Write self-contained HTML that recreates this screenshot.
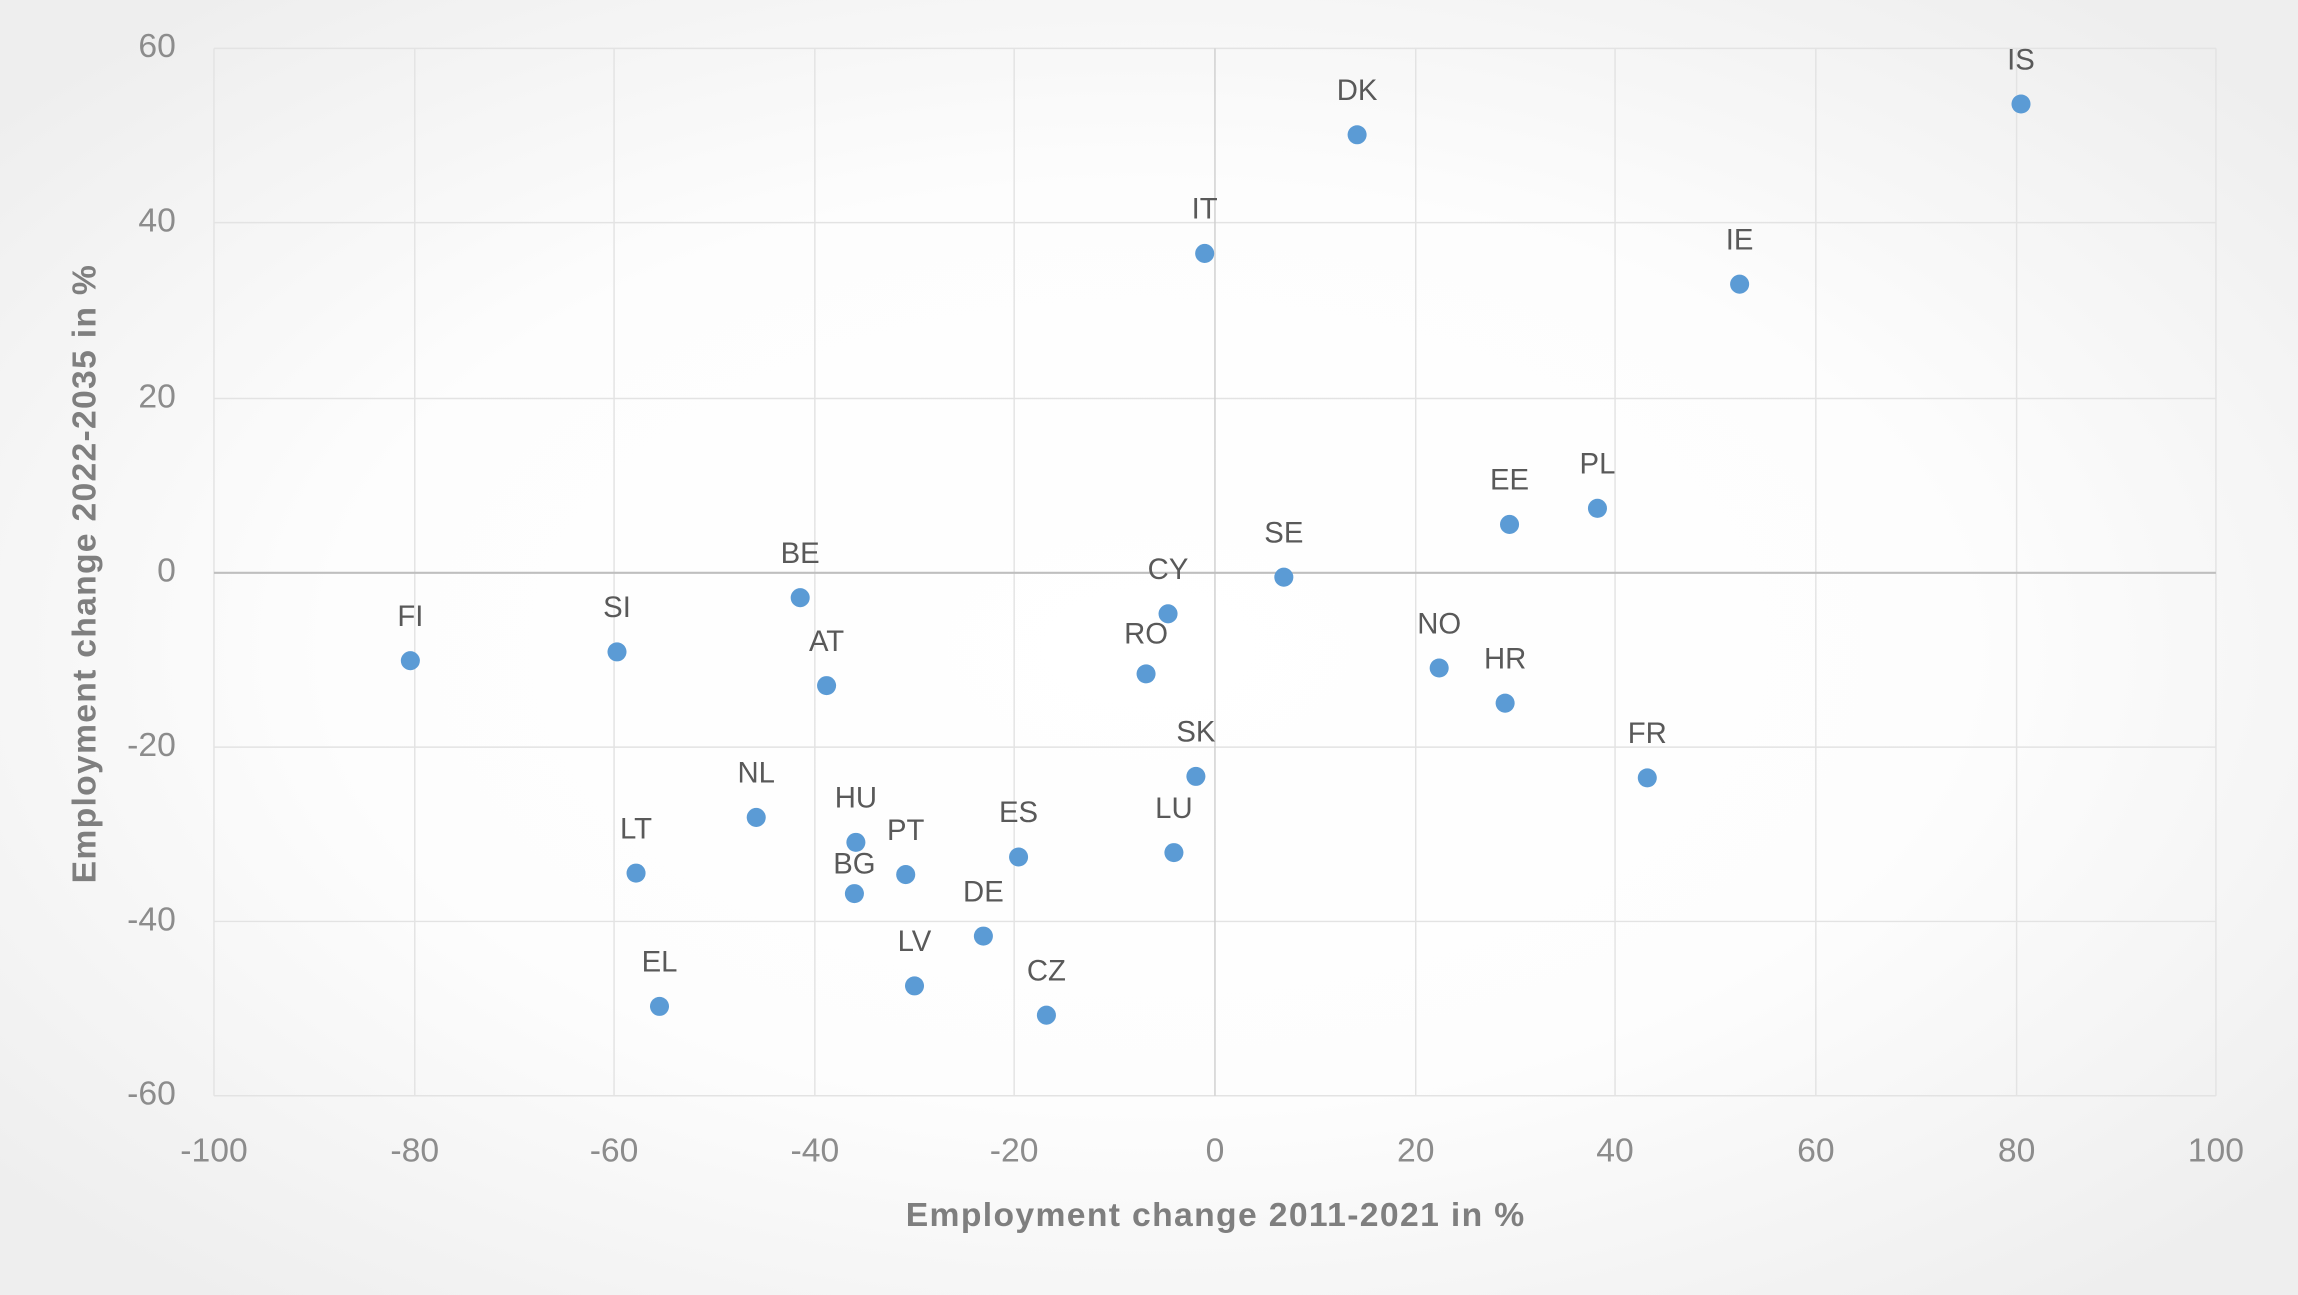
<!DOCTYPE html>
<html><head><meta charset="utf-8"><style>html,body{margin:0;padding:0;background:#fff}svg{display:block}</style></head>
<body>
<svg width="2298" height="1295" viewBox="0 0 1568 884" preserveAspectRatio="none" xmlns="http://www.w3.org/2000/svg" font-family="Liberation Sans, sans-serif">
<defs><radialGradient id="bg" cx="50%" cy="50%" r="65%"><stop offset="0%" stop-color="#ffffff"/><stop offset="55%" stop-color="#fdfdfd"/><stop offset="100%" stop-color="#eeeeee"/></radialGradient></defs>
<rect width="1568" height="884" fill="url(#bg)"/>
<g stroke="#e3e3e3" stroke-width="1">
<line x1="146" y1="33" x2="146" y2="748"/><line x1="283" y1="33" x2="283" y2="748"/><line x1="419" y1="33" x2="419" y2="748"/><line x1="556" y1="33" x2="556" y2="748"/><line x1="692" y1="33" x2="692" y2="748"/><line x1="966" y1="33" x2="966" y2="748"/><line x1="1102" y1="33" x2="1102" y2="748"/><line x1="1239" y1="33" x2="1239" y2="748"/><line x1="1376" y1="33" x2="1376" y2="748"/><line x1="1512" y1="33" x2="1512" y2="748"/>
<line x1="146" y1="33" x2="1512" y2="33"/><line x1="146" y1="152" x2="1512" y2="152"/><line x1="146" y1="272" x2="1512" y2="272"/><line x1="146" y1="510" x2="1512" y2="510"/><line x1="146" y1="629" x2="1512" y2="629"/><line x1="146" y1="748" x2="1512" y2="748"/>
</g>
<line x1="829" y1="33" x2="829" y2="748" stroke="#d0d0d0"/>
<line x1="146" y1="391" x2="1512" y2="391" stroke="#bfbfbf" stroke-width="1.5"/>
<g fill="#8c8c8c" font-size="23" text-anchor="end" dominant-baseline="middle">
<text x="120" y="33">60</text><text x="120" y="152">40</text><text x="120" y="272">20</text><text x="120" y="391">0</text><text x="120" y="510">-20</text><text x="120" y="629">-40</text><text x="120" y="748">-60</text>
</g>
<g fill="#8c8c8c" font-size="23" text-anchor="middle">
<text x="146" y="793">-100</text><text x="283" y="793">-80</text><text x="419" y="793">-60</text><text x="556" y="793">-40</text><text x="692" y="793">-20</text><text x="829" y="793">0</text><text x="966" y="793">20</text><text x="1102" y="793">40</text><text x="1239" y="793">60</text><text x="1376" y="793">80</text><text x="1512" y="793">100</text>
</g>
<text x="618" y="837" font-size="23" font-weight="bold" fill="#7f7f7f" textLength="422" lengthAdjust="spacing">Employment change 2011-2021 in %</text>
<text transform="translate(65,603) rotate(-90)" font-size="23" font-weight="bold" fill="#7f7f7f" textLength="422" lengthAdjust="spacing">Employment change 2022-2035 in %</text>
<g fill="#5b9bd5">
<circle cx="1379" cy="71" r="6.5"/><circle cx="926" cy="92" r="6.5"/><circle cx="822" cy="173" r="6.5"/><circle cx="1187" cy="194" r="6.5"/><circle cx="1030" cy="358" r="6.5"/><circle cx="1090" cy="347" r="6.5"/><circle cx="876" cy="394" r="6.5"/><circle cx="546" cy="408" r="6.5"/><circle cx="797" cy="419" r="6.5"/><circle cx="280" cy="451" r="6.5"/><circle cx="421" cy="445" r="6.5"/><circle cx="564" cy="468" r="6.5"/><circle cx="782" cy="460" r="6.5"/><circle cx="982" cy="456" r="6.5"/><circle cx="1027" cy="480" r="6.5"/><circle cx="816" cy="530" r="6.5"/><circle cx="1124" cy="531" r="6.5"/><circle cx="516" cy="558" r="6.5"/><circle cx="584" cy="575" r="6.5"/><circle cx="618" cy="597" r="6.5"/><circle cx="695" cy="585" r="6.5"/><circle cx="801" cy="582" r="6.5"/><circle cx="434" cy="596" r="6.5"/><circle cx="583" cy="610" r="6.5"/><circle cx="671" cy="639" r="6.5"/><circle cx="624" cy="673" r="6.5"/><circle cx="714" cy="693" r="6.5"/><circle cx="450" cy="687" r="6.5"/>
</g>
<g fill="#595959" font-size="20" text-anchor="middle" dominant-baseline="middle">
<text x="1379" y="42">IS</text><text x="926" y="63">DK</text><text x="822" y="144">IT</text><text x="1187" y="165">IE</text><text x="1030" y="329">EE</text><text x="1090" y="318">PL</text><text x="876" y="365">SE</text><text x="546" y="379">BE</text><text x="797" y="390">CY</text><text x="280" y="422">FI</text><text x="421" y="416">SI</text><text x="564" y="439">AT</text><text x="782" y="434">RO</text><text x="982" y="427">NO</text><text x="1027" y="451">HR</text><text x="816" y="501">SK</text><text x="1124" y="502">FR</text><text x="516" y="529">NL</text><text x="584" y="546">HU</text><text x="618" y="568">PT</text><text x="695" y="556">ES</text><text x="801" y="553">LU</text><text x="434" y="567">LT</text><text x="583" y="591">BG</text><text x="671" y="610">DE</text><text x="624" y="644">LV</text><text x="714" y="664">CZ</text><text x="450" y="658">EL</text>
</g>
</svg>
</body></html>
